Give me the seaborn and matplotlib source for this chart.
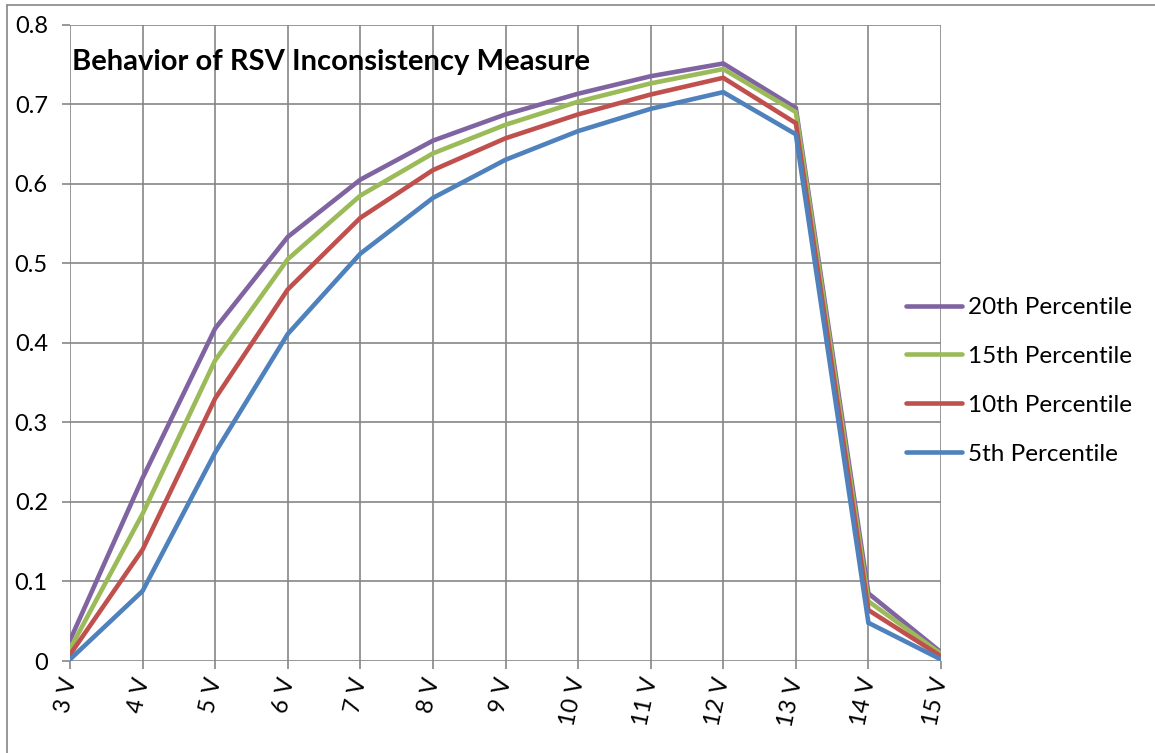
import matplotlib
matplotlib.use("Agg")
import matplotlib.pyplot as plt
import seaborn as sns
import pandas as pd
from matplotlib.lines import Line2D

categories = ["3 V", "4 V", "5 V", "6 V", "7 V", "8 V", "9 V", "10 V", "11 V", "12 V", "13 V", "14 V", "15 V"]
p20 = [0.026, 0.230, 0.418, 0.533, 0.605, 0.654, 0.687, 0.713, 0.735, 0.751, 0.695, 0.085, 0.011]
p15 = [0.015, 0.185, 0.378, 0.505, 0.585, 0.638, 0.674, 0.703, 0.726, 0.744, 0.690, 0.075, 0.009]
p10 = [0.008, 0.140, 0.330, 0.467, 0.557, 0.617, 0.657, 0.687, 0.712, 0.733, 0.676, 0.064, 0.006]
p05 = [0.002, 0.088, 0.262, 0.411, 0.512, 0.582, 0.630, 0.666, 0.694, 0.715, 0.662, 0.048, 0.002]
series_names = ["20th Percentile", "15th Percentile", "10th Percentile", "5th Percentile"]
colors = {"20th Percentile": "#8064A2", "15th Percentile": "#9BBB59",
          "10th Percentile": "#C0504D", "5th Percentile": "#4F81BD"}

sns.set_theme(style="white")
plt.rcParams["font.family"] = ["Lato", "DejaVu Sans"]

rows = []
for name, vals in zip(series_names, [p20, p15, p10, p05]):
    for i, (c, v) in enumerate(zip(categories, vals)):
        rows.append({"idx": i, "cat": c, "value": v, "series": name})
df = pd.DataFrame(rows)

W, H = 1155, 753
fig = plt.figure(figsize=(W / 100, H / 100), dpi=100)
ax = fig.add_axes([70 / W, 1 - 661 / H, (941 - 70) / W, (661 - 24.5) / H])

for name in series_names:
    sub = df[df["series"] == name]
    sns.lineplot(data=sub, x="idx", y="value", color=colors[name], lw=3.3,
                 ax=ax, legend=False, solid_joinstyle="miter", zorder=3)

ax.set_xlim(0, len(categories) - 1)
ax.set_ylim(0, 0.8)
ax.set_xticks(range(len(categories)))
ax.set_xticklabels(categories, rotation=78, rotation_mode="anchor", ha="right", va="center",
                   fontsize=17, color="black")
yt = [0, 0.1, 0.2, 0.3, 0.4, 0.5, 0.6, 0.7, 0.8]
ax.set_yticks(yt)
ax.set_yticklabels(["0" if v == 0 else f"{v:.1f}" for v in yt], fontsize=17, color="black")
ax.set_xlabel("")
ax.set_ylabel("")
ax.grid(True, color="#868686", lw=1.2)
for s in ax.spines.values():
    s.set_visible(False)
ax.tick_params(axis="both", which="both", length=6, width=1.2, color="#868686",
               direction="out", left=True, bottom=True)
ax.tick_params(axis="y", pad=10)
ax.tick_params(axis="x", pad=6)

ax.text(72 / W, 1 - 62 / H, "Behavior of RSV Inconsistency Measure", transform=fig.transFigure,
        fontsize=21, fontweight="bold", ha="left", va="center", color="black")

handles = [Line2D([0], [0], color=colors[n], lw=3.3, solid_capstyle="round") for n in series_names]
fig.legend(handles, series_names, loc="upper left", bbox_to_anchor=(906 / W, 1 - 297 / H),
           frameon=False, fontsize=17.5, handlelength=2.3, handletextpad=0.25, labelspacing=1.15,
           borderaxespad=0, borderpad=0, labelcolor="black")

fig.add_artist(Line2D([7 / W, 1], [1 - 5 / H, 1 - 5 / H], transform=fig.transFigure,
                      color="#868686", lw=1.2))
fig.add_artist(Line2D([7 / W, 7 / W], [0, 1 - 5 / H], transform=fig.transFigure,
                      color="#868686", lw=1.2))

fig.savefig("out.png", dpi=100, facecolor="white")
